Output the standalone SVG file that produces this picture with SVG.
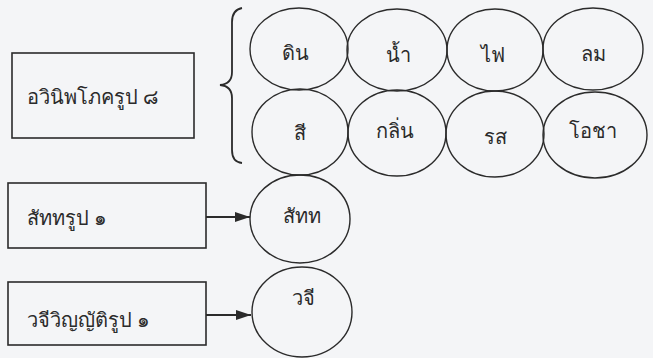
<svg xmlns="http://www.w3.org/2000/svg" width="653" height="358" viewBox="0 0 653 358">
<defs>
<style>
.box{fill:none;stroke:#2b2b2b;stroke-width:1.6}
.el{fill:none;stroke:#2b2b2b;stroke-width:1.4}
.t{font-family:"Noto Sans","DejaVu Sans",sans-serif;font-size:20px;fill:#2b2b2b}
.c{text-anchor:middle}
.ln{stroke:#2b2b2b;stroke-width:1.8;fill:none}
</style>
<marker id="ah" markerWidth="16" markerHeight="12" refX="15" refY="6" orient="auto" markerUnits="userSpaceOnUse">
<path d="M0,1 L15,6 L0,11 Z" fill="#2b2b2b"/>
</marker>
</defs>
<rect width="653" height="358" fill="#f4f5f7"/>
<g id="node-avinibhoga">
<rect class="box" x="12" y="53" width="182" height="85"/>
<text class="t" x="27" y="104">อวินิพโภครูป ๘</text>
</g>
<g id="brace">
<path class="ln" d="M242,8 Q232,10 232,22 L232,72 Q232,84 220,85 Q232,86 232,98 L232,150 Q232,162 242,163" stroke-width="1.4"/>
</g>
<g id="node-din"><ellipse class="el" cx="299" cy="49" rx="49" ry="41"/><text class="t c" x="295" y="60">ดิน</text></g>
<g id="node-nam"><ellipse class="el" cx="397" cy="50" rx="50" ry="41"/><text class="t c" x="398" y="62">น้ำ</text></g>
<g id="node-fai"><ellipse class="el" cx="495" cy="50" rx="48" ry="41"/><text class="t c" x="493" y="62">ไฟ</text></g>
<g id="node-lom"><ellipse class="el" cx="593" cy="49" rx="50" ry="41"/><text class="t c" x="593" y="61">ลม</text></g>
<g id="node-si"><ellipse class="el" cx="300" cy="132" rx="48" ry="43"/><text class="t c" x="300" y="140">สี</text></g>
<g id="node-klin"><ellipse class="el" cx="397" cy="133" rx="49" ry="43"/><text class="t c" x="395" y="138">กลิ่น</text></g>
<g id="node-rot"><ellipse class="el" cx="495" cy="134" rx="49" ry="43"/><text class="t c" x="495" y="144">รส</text></g>
<g id="node-ocha"><ellipse class="el" cx="595" cy="135" rx="52" ry="43"/><text class="t c" x="593" y="138" font-size="17">โอชา</text></g>
<g id="node-sadda-rupa">
<rect class="box" x="8" y="183" width="198" height="65"/>
<text class="t" x="27" y="225">สัททรูป ๑</text>
</g>
<g id="node-sadda"><ellipse class="el" cx="300" cy="219" rx="50" ry="44"/><text class="t c" x="302" y="223">สัทท</text></g>
<g id="node-vaci-rupa">
<rect class="box" x="8" y="282" width="198" height="63"/>
<text class="t" x="27" y="327">วจีวิญญัติรูป ๑</text>
</g>
<g id="node-vaci"><ellipse class="el" cx="302" cy="312" rx="50" ry="45"/><text class="t c" x="303" y="305">วจี</text></g>
<g id="connectors">
<line class="ln" x1="206" y1="217" x2="250" y2="217" marker-end="url(#ah)"/>
<line class="ln" x1="206" y1="315" x2="251" y2="315" marker-end="url(#ah)"/>
</g>
</svg>
